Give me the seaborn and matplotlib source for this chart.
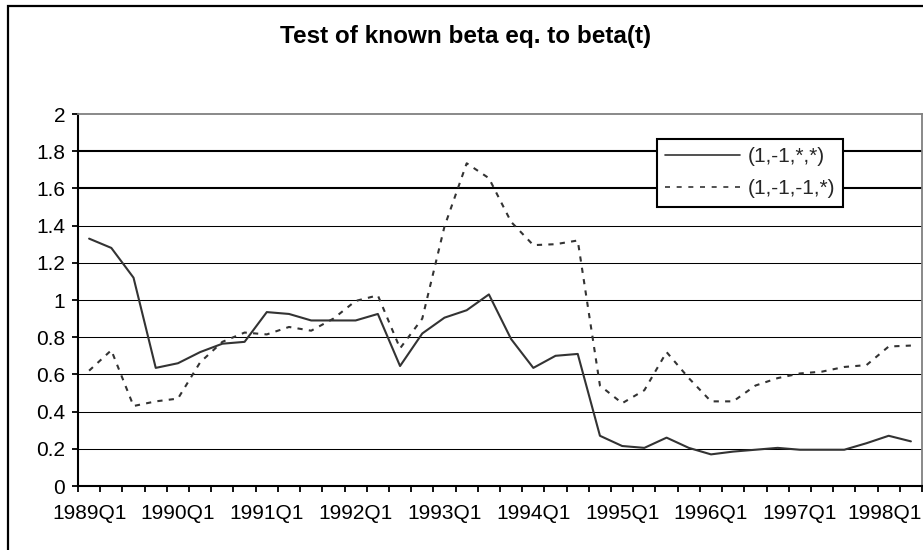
import matplotlib
matplotlib.use("Agg")
import matplotlib.pyplot as plt
import matplotlib.transforms as mtransforms
import seaborn as sns
import pandas as pd
import numpy as np
from matplotlib.patches import Rectangle
from matplotlib.lines import Line2D

# ---- data ----
quarters = [f"{y}Q{q}" for y in range(1989, 1999) for q in range(1, 5)][:38]
solid_vals = [1.33, 1.28, 1.12, 0.635, 0.66, 0.72, 0.765, 0.775, 0.935, 0.925,
              0.89, 0.89, 0.89, 0.925, 0.645, 0.82, 0.905, 0.945, 1.03, 0.79,
              0.635, 0.70, 0.71, 0.27, 0.215, 0.205, 0.26, 0.205, 0.17, 0.185,
              0.195, 0.205, 0.195, 0.195, 0.195, 0.23, 0.27, 0.24]
dashed_vals = [0.62, 0.73, 0.43, 0.455, 0.47, 0.665, 0.775, 0.825, 0.815, 0.855,
               0.835, 0.90, 0.995, 1.025, 0.74, 0.90, 1.395, 1.735, 1.655, 1.42,
               1.295, 1.30, 1.32, 0.54, 0.445, 0.515, 0.72, 0.58, 0.455, 0.455,
               0.54, 0.58, 0.605, 0.615, 0.64, 0.65, 0.75, 0.755]
series_names = ["(1,-1,*,*)", "(1,-1,-1,*)"]
xtick_labels = ["1989Q1", "1990Q1", "1991Q1", "1992Q1", "1993Q1",
                "1994Q1", "1995Q1", "1996Q1", "1997Q1", "1998Q1"]
ytick_values = [0, 0.2, 0.4, 0.6, 0.8, 1.0, 1.2, 1.4, 1.6, 1.8, 2.0]
ytick_labels = ["0", "0.2", "0.4", "0.6", "0.8", "1", "1.2", "1.4", "1.6", "1.8", "2"]
title = "Test of known beta eq. to beta(t)"

df = pd.DataFrame({
    "idx": list(range(len(quarters))) * 2,
    "value": solid_vals + dashed_vals,
    "series": [series_names[0]] * len(quarters) + [series_names[1]] * len(quarters),
})

sns.set_theme(style="white")
plt.rcParams["font.family"] = ["Liberation Sans", "DejaVu Sans"]

W, H = 923, 550
fig = plt.figure(figsize=(W / 100, H / 100), dpi=100)
ax = fig.add_axes([78 / W, 1 - 486 / H, (922 - 78) / W, (486 - 114) / H])

line_color = "#333333"
sns.lineplot(data=df, x="idx", y="value", style="series",
             dashes={series_names[0]: "", series_names[1]: (2.5, 3.0)},
             color=line_color, linewidth=1.5, ax=ax, legend=False)

n = len(quarters)
ax.set_xlim(-0.5, n - 0.5)
ax.set_ylim(0, 2)

# gridlines
for v in ytick_values[1:-1]:
    lw = 1.5 if v in (1.6, 1.8) else 0.75
    ax.axhline(v, color="black", linewidth=lw, zorder=0.5)

# ticks
ax.set_xticks(np.arange(-0.5, n, 1.0))
ax.set_xticklabels([])
ax.set_xticks([quarters.index(l) for l in xtick_labels], minor=True)
ax.set_xticklabels(xtick_labels, minor=True)
ax.tick_params(axis="x", which="major", direction="out", length=4.3, width=1.3,
               color="black", bottom=True)
ax.tick_params(axis="x", which="minor", length=0, pad=13, labelsize=15,
               labelcolor="black", bottom=True)
ax.set_yticks(ytick_values)
ax.set_yticklabels(ytick_labels)
ax.tick_params(axis="y", direction="out", length=4.3, width=1.3, color="black",
               pad=5, labelsize=15, labelcolor="black", left=True)
ax.set_xlabel("")
ax.set_ylabel("")

# nudge the last x label so it stays inside the figure
last = ax.get_xticklabels(minor=True)[-1]
last.set_transform(last.get_transform() +
                   mtransforms.ScaledTranslation(-4 / 100, 0, fig.dpi_scale_trans))

for side in ("left", "bottom"):
    ax.spines[side].set_color("black")
    ax.spines[side].set_linewidth(1.5)
for side in ("top", "right"):
    ax.spines[side].set_color("#808080")
    ax.spines[side].set_linewidth(1.3)

# legend
handles = [Line2D([0], [0], color=line_color, lw=1.2),
           Line2D([0], [0], color=line_color, lw=1.2, dashes=(3, 4))]
leg = ax.legend(handles, series_names, loc="upper left",
                bbox_to_anchor=(657 / W, 1 - 139 / H), bbox_transform=fig.transFigure,
                borderaxespad=0, borderpad=0.4, handlelength=3.6, handletextpad=0.35,
                labelspacing=0.62, fontsize=15, frameon=True, fancybox=False,
                framealpha=1)
leg.get_frame().set_edgecolor("black")
leg.get_frame().set_linewidth(1.5)
leg.get_frame().set_facecolor("white")

fig.text(466 / W, 1 - 36 / H, title, ha="center", va="center",
         fontsize=17.5, fontweight="bold", color="black")

# outer chart border (cropped at right/bottom)
fig.add_artist(Rectangle((8 / W, -0.2), 1.2, 1.2 - 6 / H, transform=fig.transFigure,
                         fill=False, edgecolor="black", linewidth=1.6))

fig.savefig("out.png", dpi=100)
